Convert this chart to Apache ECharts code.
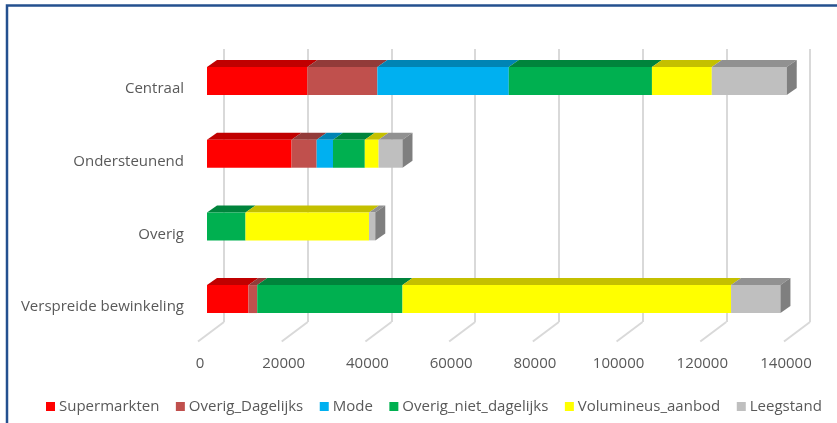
<!DOCTYPE html>
<html>
<head>
<meta charset="utf-8">
<script src="https://cdn.jsdelivr.net/npm/echarts@6/dist/echarts.min.js"></script>
<style>
  html, body { margin: 0; padding: 0; background: #fff; }
  #chart { width: 837px; height: 423px; }
</style>
</head>
<body>
<div id="chart"></div>
<script>
// Winkelvloeroppervlak per type winkelgebied, gestapeld per branchegroep
const categories = ['Centraal', 'Ondersteunend', 'Overig', 'Verspreide bewinkeling'];
const supermarkten = [24000, 20200, 0, 9900];
const overigDagelijks = [16700, 6000, 0, 2100];
const mode = [31400, 3900, 0, 0];
const overigNietDagelijks = [34200, 7600, 9200, 34700];
const volumineusAanbod = [14300, 3300, 29500, 78500];
const leegstand = [17900, 5700, 1500, 11800];
const xTicks = [0, 20000, 40000, 60000, 80000, 100000, 120000, 140000];

const seriesDefs = [
  { name: 'Supermarkten', values: supermarkten, front: '#FF0000', top: '#C00000' },
  { name: 'Overig_Dagelijks', values: overigDagelijks, front: '#C0504D', top: '#923B39' },
  { name: 'Mode', values: mode, front: '#00B0F0', top: '#0084B4' },
  { name: 'Overig_niet_dagelijks', values: overigNietDagelijks, front: '#00B050', top: '#00843C' },
  { name: 'Volumineus_aanbod', values: volumineusAanbod, front: '#FFFF00', top: '#C4C000' },
  { name: 'Leegstand', values: leegstand, front: '#BFBFBF', top: '#919191' }
];
const sideColor = '#7F7F7F';

// Perspective offset of the bar depth (towards the back wall)
const DX = 10, DY = -7;
const BAR_H = 28;
const AXIS_MAX = 140000;
const TEXT = '#595959';
const FONT = 'Open Sans';

// Cumulative starts per category, and which segment closes each bar
const totals = categories.map(() => 0);
const lastIdx = categories.map((_, c) => {
  let li = -1;
  seriesDefs.forEach((s, i) => { if (s.values[c] > 0) li = i; });
  return li;
});

const barSeries = seriesDefs.map((s, si) => {
  const data = categories.map((_, c) => {
    const start = totals[c];
    const end = start + s.values[c];
    totals[c] = end;
    return [start, end, c, lastIdx[c] === si ? 1 : 0];
  });
  return {
    type: 'custom',
    name: s.name,
    xAxisIndex: 1,
    yAxisIndex: 1,
    itemStyle: { color: s.front },
    encode: { x: [0, 1], y: 2 },
    z: 5,
    data: data,
    renderItem: function (params, api) {
      const start = api.value(0), end = api.value(1), cat = api.value(2);
      if (end <= start) return null;
      const p0 = api.coord([start, cat]);
      const p1 = api.coord([end, cat]);
      const x0 = p0[0], x1 = p1[0];
      const yT = p0[1] - BAR_H / 2;
      const children = [
        {
          type: 'polygon',
          shape: { points: [[x0, yT], [x0 + DX, yT + DY], [x1 + DX, yT + DY], [x1, yT]] },
          style: { fill: s.top }
        },
        {
          type: 'rect',
          shape: { x: x0, y: yT, width: x1 - x0, height: BAR_H },
          style: { fill: s.front }
        }
      ];
      if (api.value(3) === 1) {
        children.push({
          type: 'polygon',
          shape: { points: [[x1, yT], [x1 + DX, yT + DY], [x1 + DX, yT + DY + BAR_H], [x1, yT + BAR_H]] },
          style: { fill: sideColor }
        });
      }
      return { type: 'group', children: children };
    }
  };
});

// Floor lines running from the back wall to the front edge
const floorSeries = {
  type: 'custom',
  xAxisIndex: 0,
  yAxisIndex: 0,
  silent: true,
  z: 1,
  data: xTicks.map(v => [v, 0]),
  renderItem: function (params, api) {
    const p = api.coord([api.value(0), 0]);
    const bottom = params.coordSys.y + params.coordSys.height;
    return {
      type: 'line',
      shape: { x1: p[0], y1: bottom, x2: p[0] - 26, y2: bottom + 19.5 },
      style: { stroke: '#D9D9D9', lineWidth: 2 }
    };
  }
};

const hiddenCat = {
  type: 'category', data: categories, inverse: true,
  axisLine: { show: false }, axisTick: { show: false }, axisLabel: { show: false }
};
const valueAxisBase = { type: 'value', min: 0, max: AXIS_MAX, interval: 20000 };

const chart = echarts.init(document.getElementById('chart'), null, { renderer: 'canvas' });
chart.setOption({
  animation: false,
  backgroundColor: '#FFFFFF',
  textStyle: { fontFamily: FONT },
  grid: [
    // back wall
    { left: 224, width: 586, top: 49, height: 273 },
    // bars (front faces)
    { left: 207, width: 586, top: 44.7, height: 290.7 },
    // axis labels along the front floor edge
    { left: 200, width: 586, top: 52.7, height: 290.7 }
  ],
  xAxis: [
    Object.assign({}, valueAxisBase, {
      gridIndex: 0,
      axisLine: { show: false }, axisTick: { show: false }, axisLabel: { show: false },
      splitLine: { show: true, lineStyle: { color: '#D9D9D9', width: 2 } }
    }),
    Object.assign({}, valueAxisBase, {
      gridIndex: 1,
      axisLine: { show: false }, axisTick: { show: false }, axisLabel: { show: false },
      splitLine: { show: false }
    }),
    Object.assign({}, valueAxisBase, {
      gridIndex: 2,
      axisLine: { show: false }, axisTick: { show: false },
      splitLine: { show: false },
      axisLabel: {
        color: TEXT, fontSize: 15, fontFamily: FONT, margin: 13,
        formatter: v => String(v)
      }
    })
  ],
  yAxis: [
    Object.assign({}, hiddenCat, { gridIndex: 0 }),
    Object.assign({}, hiddenCat, { gridIndex: 1 }),
    Object.assign({}, hiddenCat, {
      gridIndex: 2,
      axisLabel: { show: true, color: TEXT, fontSize: 15, fontFamily: FONT, margin: 16 }
    })
  ],
  legend: {
    left: 46,
    top: 399,
    padding: 0,
    itemWidth: 9,
    itemHeight: 9,
    itemGap: 16.5,
    icon: 'rect',
    textStyle: { color: TEXT, fontSize: 15, fontFamily: FONT, padding: [0, 0, 0, -1] },
    data: seriesDefs.map(s => ({ name: s.name, itemStyle: { color: s.front } }))
  },
  graphic: [
    {
      type: 'polyline',
      shape: { points: [[7, 423], [7, 5.5], [837, 5.5]] },
      style: { stroke: '#24508F', lineWidth: 2.5, fill: null },
      z: 100
    }
  ],
  series: [floorSeries].concat(barSeries)
});
</script>
</body>
</html>
